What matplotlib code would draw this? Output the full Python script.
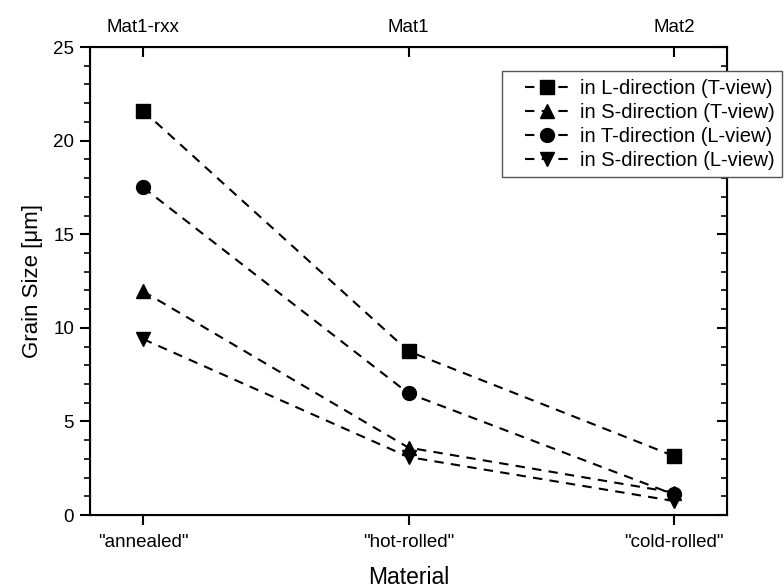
import numpy as np
import matplotlib.pyplot as plt
from matplotlib.patches import Rectangle
from matplotlib.ticker import MultipleLocator

plt.rcParams['font.family'] = ['Liberation Sans', 'DejaVu Sans']

# Data
conditions = ['"annealed"', '"hot-rolled"', '"cold-rolled"']
materials = ['Mat1-rxx', 'Mat1', 'Mat2']
l_dir_t_view = [21.6, 8.75, 3.15]
s_dir_t_view = [11.95, 3.6, 1.2]
t_dir_l_view = [17.5, 6.5, 1.1]
s_dir_l_view = [9.4, 3.1, 0.75]

series = [
    (l_dir_t_view, 's', 'in L-direction (T-view)'),
    (s_dir_t_view, '^', 'in S-direction (T-view)'),
    (t_dir_l_view, 'o', 'in T-direction (L-view)'),
    (s_dir_l_view, 'v', 'in S-direction (L-view)'),
]

x = np.arange(len(conditions))

fig = plt.figure(figsize=(7.84, 5.88), dpi=100)
ax = fig.add_axes([0.1148, 0.1241, 0.8125, 0.7959])

for vals, marker, label in series:
    ax.plot(x, vals, color='black', linestyle=(0, (4.5, 3.5)), linewidth=1.5,
            marker=marker, markersize=10, label=label)

ax.set_xlim(-0.2, 2.2)
ax.set_ylim(0, 25)
ax.set_xticks(x)
ax.set_xticklabels(conditions, fontsize=13.5)
ax.yaxis.set_major_locator(MultipleLocator(5))
ax.yaxis.set_minor_locator(MultipleLocator(1))
ax.tick_params(axis='y', which='major', direction='out', length=7.5, width=1.5,
               labelsize=13.5, right=True, pad=4)
ax.tick_params(axis='y', which='minor', direction='out', length=4, width=1.2,
               right=True)
ax.tick_params(axis='x', which='major', direction='out', length=7.5, width=1.5, pad=6)
for side in ['left', 'right', 'top', 'bottom']:
    ax.spines[side].set_linewidth(1.5)

# right-side ticks point inward
for t in ax.yaxis.get_major_ticks():
    t.tick2line.set_marker(0)
for t in ax.yaxis.get_minor_ticks():
    t.tick2line.set_marker(0)

ax.set_xlabel('Material', fontsize=16.5, labelpad=11)
ax.set_ylabel('Grain Size [\u03bcm]', fontsize=16, labelpad=7)

top = ax.twiny()
top.set_xlim(ax.get_xlim())
top.set_xticks(x)
top.set_xticklabels(materials, fontsize=13.5)
top.tick_params(axis='x', direction='in', length=7.5, width=1.5, pad=8)

# legend box drawn separately, with a wider left margin as in the original
fig.patches.append(Rectangle((502 / 784, 1 - 177 / 588), 280 / 784, 106 / 588,
                             transform=fig.transFigure, facecolor='white',
                             edgecolor='#555555', linewidth=1.0, zorder=5))
leg = fig.legend(loc='upper right', bbox_to_anchor=(0.998, 0.879),
                 fontsize=14.5, frameon=False,
                 handlelength=2.2, handletextpad=0.5, labelspacing=0.24,
                 borderpad=0.4, borderaxespad=0.0)
leg.set_zorder(6)

fig.savefig('out.png', dpi=100)
